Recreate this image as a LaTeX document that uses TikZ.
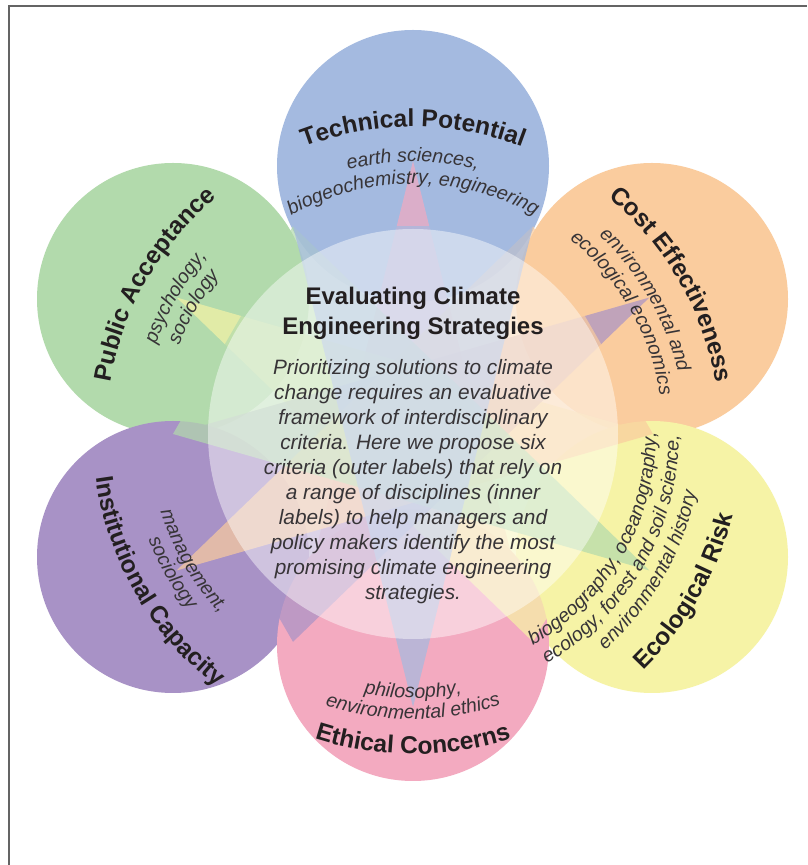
\documentclass[tikz,border=0pt]{standalone}
\usepackage{fontspec}
\setmainfont{Liberation Sans}
\usetikzlibrary{decorations.text}
\definecolor{cblue}{RGB}{164,186,224}
\definecolor{cgreen}{RGB}{178,218,172}
\definecolor{corange}{RGB}{250,204,158}
\definecolor{cpurple}{RGB}{168,146,198}
\definecolor{cyellow}{RGB}{246,243,166}
\definecolor{cpink}{RGB}{243,170,192}
\definecolor{headc}{RGB}{35,31,32}
\definecolor{subc}{RGB}{55,52,55}
\definecolor{framec}{RGB}{100,100,100}
\tikzset{
  headlab/.style={decorate, decoration={text along path, text align=center, text color=headc,
      text={|\bfseries\fontsize{24.5}{26}\selectfont|#1}}},
  sublab/.style={decorate, decoration={text along path, text align=center, text color=subc,
      text={|\itshape\fontsize{19.5}{21}\selectfont|#1}}},
  disc/.style={fill=#1},
  ray/.style={fill=#1, opacity=.7},
}
\newcommand\uparc[3]{\path[#3] ([shift={(#1+70:#2)}]S) arc[start angle=#1+70, end angle=#1-70, radius=#2];}
\newcommand\downarc[3]{\path[#3] ([shift={(#1-70:#2)}]S) arc[start angle=#1-70, end angle=#1+70, radius=#2];}
\begin{document}
\begin{tikzpicture}[x=1pt,y=1pt]
\useasboundingbox (0,0) rectangle (807,865);
\fill[white] (0,0) rectangle (807,865);
\draw[framec, line width=1.3pt] (9,0) -- (9,859) -- (807,859);
\coordinate (S) at (413,431);
% outer circles
\fill[disc=cgreen]  (173,566) circle[radius=136];
\fill[disc=cpurple] (173,308) circle[radius=136];
\fill[disc=corange] (652,566) circle[radius=136];
\fill[disc=cyellow] (652,308) circle[radius=136];
\fill[disc=cblue]   (413,699) circle[radius=136];
\fill[disc=cpink]   (413,220) circle[radius=136];
% star rays
\foreach \a/\c in {90/cpink,150/cyellow,30/cpurple,210/corange,330/cgreen,270/cblue}
  \fill[ray=\c] ([shift={(\a:273)}]S) -- ([shift={(\a+150:240)}]S) -- ([shift={(\a+210:240)}]S) -- cycle;
% central disc
\fill[white, opacity=.45] (S) circle[radius=205];
% central text
\node[anchor=base, align=center, inner sep=0, text=headc, font=\bfseries\fontsize{24}{30}\selectfont] (ttl) at (413,530)
  {Evaluating Climate\\Engineering Strategies};
\node[anchor=base, align=center, inner sep=0, text=subc, font=\itshape\fontsize{20.8}{25}\selectfont] (bdy) at (413,265)
  {Prioritizing solutions to climate\\change requires an evaluative\\framework of interdisciplinary\\criteria. Here we propose six\\criteria (outer labels) that rely on\\a range of disciplines (inner\\labels) to help managers and\\policy makers identify the most\\promising climate engineering\\strategies.};
% Technical Potential
\uparc{90}{307}{headlab={Technical Potential}}
\uparc{90}{272}{sublab={earth sciences,}}
\uparc{90}{250}{sublab={biogeochemistry, engineering}}
% Cost Effectiveness
\uparc{30}{307}{headlab={Cost Effectiveness}}
\uparc{30}{272}{sublab={environmental and}}
\uparc{30}{250}{sublab={ecological economics}}
% Public Acceptance
\uparc{150}{307}{headlab={Public Acceptance}}
\uparc{150}{272}{sublab={psychology,}}
\uparc{150}{250}{sublab={sociology}}
% Institutional Capacity
\downarc{210}{264}{sublab={management,}}
\downarc{210}{285}{sublab={sociology}}
\downarc{210}{320}{headlab={Institutional Capacity}}
% Ethical Concerns
\downarc{270}{264}{sublab={philosophy,}}
\downarc{270}{285}{sublab={environmental ethics}}
\downarc{270}{320}{headlab={Ethical Concerns}}
% Ecological Risk
\downarc{330}{243}{sublab={biogeography, oceanography,}}
\downarc{330}{266}{sublab={ecology, forest and soil science,}}
\downarc{330}{289}{sublab={environmental history}}
\downarc{330}{330}{headlab={Ecological Risk}}
\end{tikzpicture}
\end{document}
